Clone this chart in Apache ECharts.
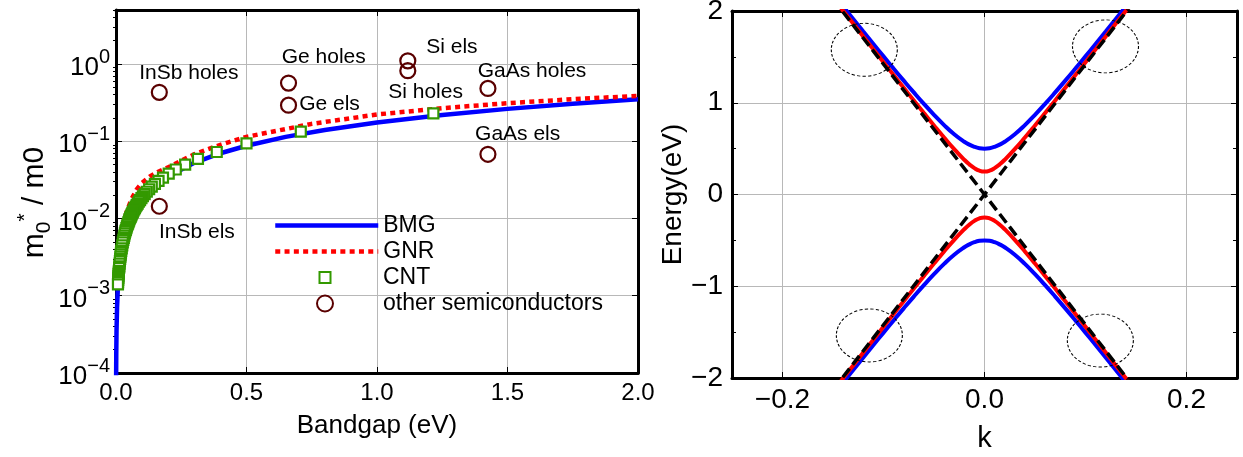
<!DOCTYPE html>
<html><head><meta charset="utf-8">
<script src="https://cdn.jsdelivr.net/npm/echarts@6/dist/echarts.min.js"></script>
<style>html,body{margin:0;padding:0;background:#fff}#c{width:1243px;height:457px}</style>
</head><body><div id="c"></div>
<script>
// ---------- Left panel data ----------
const bmg = [[0.0005,8.75e-5],[0.001,1.75e-4],[0.002,3.5e-4],[0.004,7e-4],[0.007,1.23e-3],[0.01,1.75e-3],[0.015,2.6e-3],[0.02,3.5e-3],[0.03,5.25e-3],[0.05,8.75e-3],[0.07,0.0123],[0.1,0.0175],[0.15,0.026],[0.2,0.035],[0.3,0.0525],[0.4,0.07],[0.5,0.0875],[0.65,0.114],[0.8,0.14],[1.0,0.175],[1.25,0.219],[1.5,0.2625],[1.75,0.306],[2.0,0.35]];
const gnr = [[0.005,0.0016],[0.01,0.0032],[0.02,0.0062],[0.04,0.012],[0.06,0.018],[0.08,0.024],[0.1,0.029],[0.13,0.035],[0.16,0.04],[0.2,0.046],[0.3,0.068],[0.4,0.09],[0.5,0.114],[0.75,0.168],[1.0,0.222],[1.25,0.268],[1.5,0.311],[1.75,0.35],[2.0,0.387]];
const cnt = [[1.216,0.229],[0.708,0.133],[0.500,0.094],[0.386,0.0726],[0.314,0.0591],[0.265,0.0498],[0.229,0.0431],[0.202,0.0380],[0.180,0.0339],[0.163,0.0307],[0.149,0.0280],[0.137,0.0258],[0.127,0.0239],[0.118,0.0222],[0.110,0.0207],[0.103,0.0194],[0.0975,0.0183],[0.0922,0.0173],[0.0875,0.0165],[0.0832,0.0156],[0.0793,0.0149],[0.0758,0.0143],[0.0726,0.0136],[0.0696,0.0131],[0.0669,0.0126],[0.0644,0.0121],[0.062,0.0117],[0.060,0.0113],[0.058,0.0109],[0.056,0.0105],[0.054,0.0102],[0.052,0.0098],[0.050,0.0094],[0.048,0.0090],[0.046,0.0086],[0.044,0.0083],[0.042,0.0079],[0.040,0.0075],[0.038,0.0071],[0.036,0.0068],[0.034,0.0064],[0.032,0.0060],[0.030,0.0056],[0.028,0.0053],[0.026,0.0049],[0.024,0.0045],[0.022,0.0041],[0.020,0.0038],[0.019,0.0036],[0.018,0.0034],[0.017,0.0032],[0.016,0.0030],[0.015,0.0028],[0.014,0.0026],[0.013,0.0024],[0.012,0.0023],[0.011,0.0021],[0.0105,0.0020],[0.010,0.0019],[0.0095,0.0018],[0.009,0.0017],[0.0085,0.0016],[0.008,0.0015],[0.0075,0.0014]];
const semis = [[0.166,0.43],[0.166,0.0144],[0.661,0.566],[0.661,0.293],[1.118,1.10],[1.118,0.82],[1.425,0.483],[1.425,0.0678]];
const semiLabels = [['InSb holes',0.279,0.753],['InSb els',0.31,0.00668],['Ge holes',0.796,1.207],['Ge els',0.818,0.302],['Si els',1.287,1.638],['Si holes',1.186,0.428],['GaAs holes',1.594,0.799],['GaAs els',1.539,0.123]];
const legendNames = ['BMG','GNR','CNT','other semiconductors'];

// ---------- Right panel data ----------
const kVals = [-0.15,-0.14,-0.13,-0.12,-0.11,-0.10,-0.09,-0.08,-0.07,-0.06,-0.05,-0.04,-0.03,-0.02,-0.015,-0.01,-0.005,0,0.005,0.01,0.015,0.02,0.03,0.04,0.05,0.06,0.07,0.08,0.09,0.10,0.11,0.12,0.13,0.14,0.15];
const blueUp = [2.1879,2.0499,1.9125,1.7758,1.6401,1.5055,1.3723,1.2412,1.1127,0.9879,0.8684,0.7567,0.6569,0.5750,0.5435,0.5198,0.5050,0.5,0.5050,0.5198,0.5435,0.5750,0.6569,0.7567,0.8684,0.9879,1.1127,1.2412,1.3723,1.5055,1.6401,1.7758,1.9125,2.0499,2.1879];
const blueDn = [-2.1879,-2.0499,-1.9125,-1.7758,-1.6401,-1.5055,-1.3723,-1.2412,-1.1127,-0.9879,-0.8684,-0.7567,-0.6569,-0.5750,-0.5435,-0.5198,-0.5050,-0.5,-0.5050,-0.5198,-0.5435,-0.5750,-0.6569,-0.7567,-0.8684,-0.9879,-1.1127,-1.2412,-1.3723,-1.5055,-1.6401,-1.7758,-1.9125,-2.0499,-2.1879];
const redUp = [2.1446,2.0036,1.8629,1.7222,1.5819,1.4418,1.3022,1.1632,1.0250,0.8879,0.7527,0.6206,0.4939,0.3784,0.3284,0.2875,0.2599,0.25,0.2599,0.2875,0.3284,0.3784,0.4939,0.6206,0.7527,0.8879,1.0250,1.1632,1.3022,1.4418,1.5819,1.7222,1.8629,2.0036,2.1446];
const redDn = [-2.1446,-2.0036,-1.8629,-1.7222,-1.5819,-1.4418,-1.3022,-1.1632,-1.0250,-0.8879,-0.7527,-0.6206,-0.4939,-0.3784,-0.3284,-0.2875,-0.2599,-0.25,-0.2599,-0.2875,-0.3284,-0.3784,-0.4939,-0.6206,-0.7527,-0.8879,-1.0250,-1.1632,-1.3022,-1.4418,-1.5819,-1.7222,-1.8629,-2.0036,-2.1446];
const kDash = [-0.15,0,0.15];
const dashUp = [2.13,0,2.13];
const dashDn = [-2.13,0,-2.13];
const ellipses = [[-0.119,1.577],[0.1198,1.614],[-0.114,-1.536],[0.1147,-1.592]];
const rightXTicks = [-0.2,0,0.2];

// ---------- helpers ----------
const FONT = 'Liberation Sans, Arial, sans-serif';
const pair = (xs, ys) => xs.map((x, i) => [x, ys[i]]);
const minorLog = [];
for (let d = -4; d <= 0; d++) for (let m = 2; m <= 9; m++) { const v = m * Math.pow(10, d); if (v <= 5) minorLog.push(v); }
const fmtMinus = s => s.replace('-', '\u2212');

const frame = {onZero: false, lineStyle: {color: '#000', width: 3}};
const grayLine = {show: true, lineStyle: {color: '#b8b8b8', width: 1}};
const tickIn = (len) => ({show: true, inside: true, length: len, lineStyle: {color: '#000', width: 1}});
const legText = {fontSize: 23, color: '#000', fontFamily: FONT};

const chart = echarts.init(document.getElementById('c'), null, {renderer: 'canvas'});
const logAxisBase = {type: 'log', logBase: 10, min: 1e-4, max: 5, gridIndex: 0};

chart.setOption({
  animation: false,
  backgroundColor: '#fff',
  textStyle: {fontFamily: FONT, color: '#000'},
  grid: [
    {left: 116, top: 10, width: 522, height: 363, outerBoundsMode: 'none'},
    {left: 732, top: 11, width: 505, height: 367, outerBoundsMode: 'none'}
  ],
  legend: [
    {data: [legendNames[0]], left: 273, top: 214, itemWidth: 103, itemHeight: 14, padding: 0,
     itemStyle: {opacity: 0}, lineStyle: {width: 4.5}, textStyle: legText},
    {data: [legendNames[1]], left: 273, top: 240, itemWidth: 103, itemHeight: 14, padding: 0,
     itemStyle: {opacity: 0}, lineStyle: {width: 4.5, type: [5, 4.3], cap: 'butt'}, textStyle: legText},
    {data: [legendNames[2]], left: 318.5, top: 266, itemWidth: 11, itemHeight: 11, padding: 0,
     textStyle: Object.assign({padding: [0, 0, 0, 47.5]}, legText)},
    {data: [legendNames[3]], left: 316, top: 292, itemWidth: 16, itemHeight: 16, padding: 0,
     itemStyle: {opacity: 1}, textStyle: Object.assign({padding: [0, 0, 0, 45]}, legText)}
  ],
  xAxis: [
    {type: 'value', gridIndex: 0, min: 0, max: 2, interval: 0.5, axisLine: frame, axisTick: tickIn(6), splitLine: grayLine,
     axisLabel: {formatter: v => v.toFixed(1), fontSize: 24, color: '#000', margin: 8, fontFamily: FONT},
     name: 'Bandgap (eV)', nameLocation: 'middle', nameGap: 40, nameTextStyle: {fontSize: 26, color: '#000', fontFamily: FONT}},
    {type: 'value', gridIndex: 0, position: 'top', min: 0, max: 2, interval: 0.5, axisLine: frame, axisTick: tickIn(6), splitLine: {show: false}, axisLabel: {show: false}},
    {type: 'value', gridIndex: 1, min: -0.25, max: 0.25, axisLine: frame,
     axisTick: Object.assign(tickIn(6), {customValues: rightXTicks}), splitLine: grayLine,
     axisLabel: {customValues: rightXTicks, formatter: v => fmtMinus(v.toFixed(1)), fontSize: 28, color: '#000', margin: 8, fontFamily: FONT},
     name: 'k', nameLocation: 'middle', nameGap: 46, nameTextStyle: {fontSize: 29, color: '#000', fontFamily: FONT}},
    {type: 'value', gridIndex: 1, position: 'top', min: -0.25, max: 0.25, axisLine: frame,
     axisTick: Object.assign(tickIn(6), {customValues: rightXTicks}), splitLine: {show: false}, axisLabel: {show: false}}
  ],
  yAxis: [
    Object.assign({}, logAxisBase, {axisLine: frame, axisTick: tickIn(6), splitLine: grayLine,
      axisLabel: {margin: 6, fontFamily: FONT, formatter: v => {
        const e = Math.log10(v), r = Math.round(e);
        if (Math.abs(e - r) > 1e-6) return '';
        return '{b|10}{s|' + (r < 0 ? '\u2212' + (-r) : r) + '}';
      }, rich: {b: {fontSize: 26, lineHeight: 34, verticalAlign: 'bottom', color: '#000', fontFamily: FONT},
               s: {fontSize: 20, lineHeight: 20, verticalAlign: 'top', color: '#000', fontFamily: FONT}}},
      name: '{a|m}{sub|0}{sup|*}{a| / m0}', nameLocation: 'middle', nameGap: 60,
      nameTextStyle: {padding: [0, 22, 0, 0], rich: {a: {fontSize: 30, lineHeight: 40, verticalAlign: 'middle', color: '#000', fontFamily: FONT},
                             sub: {fontSize: 21, lineHeight: 20, verticalAlign: 'bottom', color: '#000', fontFamily: FONT},
                             sup: {fontSize: 21, lineHeight: 20, verticalAlign: 'top', color: '#000', fontFamily: FONT}}}}),
    Object.assign({}, logAxisBase, {axisLine: {show: false}, axisTick: Object.assign(tickIn(3), {customValues: minorLog}), splitLine: {show: false}, axisLabel: {show: false}}),
    Object.assign({}, logAxisBase, {position: 'right', axisLine: frame, axisTick: tickIn(6), splitLine: {show: false}, axisLabel: {show: false}}),
    Object.assign({}, logAxisBase, {position: 'right', axisLine: {show: false}, axisTick: Object.assign(tickIn(3), {customValues: minorLog}), splitLine: {show: false}, axisLabel: {show: false}}),
    {type: 'value', gridIndex: 1, min: -2, max: 2, interval: 1, axisLine: frame, axisTick: tickIn(6),
     minorTick: {show: true, splitNumber: 2, length: 4, lineStyle: {color: '#000', width: 1}}, splitLine: grayLine,
     axisLabel: {formatter: v => fmtMinus(String(v)), fontSize: 28, color: '#000', margin: 9, fontFamily: FONT},
     name: 'Energy(eV)', nameLocation: 'middle', nameGap: 44, nameTextStyle: {fontSize: 28, color: '#000', fontFamily: FONT}},
    {type: 'value', gridIndex: 1, position: 'right', min: -2, max: 2, interval: 1, axisLine: frame, axisTick: tickIn(6),
     minorTick: {show: true, splitNumber: 2, length: 4, lineStyle: {color: '#000', width: 1}}, splitLine: {show: false}, axisLabel: {show: false}}
  ],
  series: [
    {type: 'line', name: 'BMG', xAxisIndex: 0, yAxisIndex: 0, data: bmg, symbol: 'none', lineStyle: {color: '#0000ff', width: 4.5}, itemStyle: {color: '#0000ff'}, z: 2},
    {type: 'line', name: 'GNR', xAxisIndex: 0, yAxisIndex: 0, data: gnr, symbol: 'none', lineStyle: {color: '#ff0000', width: 4.5, type: [5, 4.3], cap: 'butt'}, itemStyle: {color: '#ff0000'}, z: 3},
    {type: 'scatter', name: 'CNT', xAxisIndex: 0, yAxisIndex: 0, data: cnt, symbol: 'rect', symbolSize: 10, itemStyle: {color: '#ffffff', borderColor: '#339900', borderWidth: 2.2, opacity: 1}, z: 4},
    {type: 'scatter', name: 'other semiconductors', xAxisIndex: 0, yAxisIndex: 0, data: semis, symbol: 'circle', symbolSize: 15, itemStyle: {color: 'rgba(255,255,255,0)', borderColor: '#5a0000', borderWidth: 2.2, opacity: 1}, z: 5},
    {type: 'scatter', name: 'annotations', xAxisIndex: 0, yAxisIndex: 0, silent: true, symbolSize: 0, z: 6, itemStyle: {opacity: 1},
     data: semiLabels.map(a => ({name: a[0], value: [a[1], a[2]]})),
     label: {show: true, position: 'inside', formatter: '{b}', fontSize: 21, color: '#000', textBorderWidth: 0, fontFamily: FONT}},

    {type: 'line', name: 'blue+', xAxisIndex: 2, yAxisIndex: 4, data: pair(kVals, blueUp), symbol: 'none', smooth: true, lineStyle: {color: '#0000ff', width: 4}, z: 2},
    {type: 'line', name: 'blue-', xAxisIndex: 2, yAxisIndex: 4, data: pair(kVals, blueDn), symbol: 'none', smooth: true, lineStyle: {color: '#0000ff', width: 4}, z: 2},
    {type: 'line', name: 'red+', xAxisIndex: 2, yAxisIndex: 4, data: pair(kVals, redUp), symbol: 'none', smooth: true, lineStyle: {color: '#ff0000', width: 4}, z: 3},
    {type: 'line', name: 'red-', xAxisIndex: 2, yAxisIndex: 4, data: pair(kVals, redDn), symbol: 'none', smooth: true, lineStyle: {color: '#ff0000', width: 4}, z: 3},
    {type: 'line', name: 'dash+', xAxisIndex: 2, yAxisIndex: 4, data: pair(kDash, dashUp), symbol: 'none', lineStyle: {color: '#000', width: 3.5, type: [11, 5], cap: 'butt'}, z: 4},
    {type: 'line', name: 'dash-', xAxisIndex: 2, yAxisIndex: 4, data: pair(kDash, dashDn), symbol: 'none', lineStyle: {color: '#000', width: 3.5, type: [11, 5], cap: 'butt'}, z: 4},
    {type: 'scatter', name: 'ellipses', xAxisIndex: 2, yAxisIndex: 4, data: ellipses, symbol: 'circle', symbolSize: [66, 53], silent: true,
     itemStyle: {color: 'rgba(255,255,255,0)', borderColor: '#000', borderWidth: 1, borderType: [3, 2], opacity: 1}, z: 5}
  ]
});
</script></body></html>
